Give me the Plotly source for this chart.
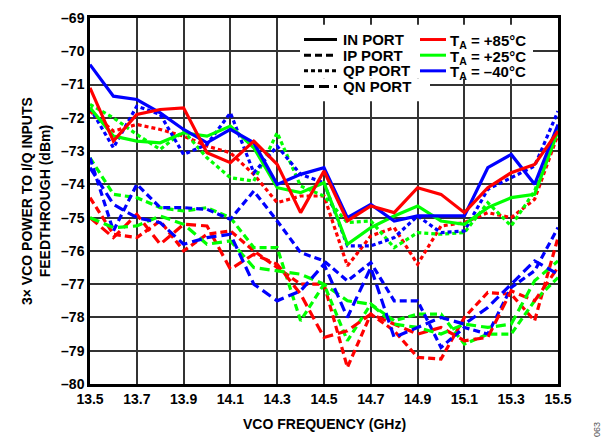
import plotly.graph_objects as go

# VCO frequency sweep (GHz)
freq = [13.5, 13.6, 13.7, 13.8, 13.9, 14.0, 14.1, 14.2, 14.3, 14.4, 14.5,
        14.6, 14.7, 14.8, 14.9, 15.0, 15.1, 15.2, 15.3, 15.4, 15.5]

# IN port (solid)
in_85 = [-71.1, -72.7, -71.9, -71.75, -71.7, -73.05, -73.35, -72.7, -73.4, -74.85, -73.6,
         -75.1, -74.65, -74.85, -74.1, -74.3, -74.85, -74.1, -73.65, -73.4, -72.4]
in_25 = [-71.7, -72.55, -72.7, -72.75, -72.45, -72.55, -72.25, -72.9, -74.1, -74.25, -73.95,
         -75.8, -75.3, -74.95, -74.65, -75.1, -75.2, -74.7, -74.4, -74.3, -72.4]
in_m40 = [-70.4, -71.35, -71.45, -71.85, -72.35, -72.75, -72.35, -72.75, -74.0, -73.7, -73.5,
          -75.0, -74.6, -75.1, -74.95, -74.95, -74.95, -73.5, -73.1, -74.0, -72.2]

# QP port (dotted)
qp_85 = [-71.8, -72.4, -72.2, -72.35, -72.55, -72.85, -73.05, -73.7, -74.55, -74.35, -74.35,
         -76.45, -75.55, -75.3, -76.4, -75.25, -75.15, -74.85, -75.0, -74.45, -72.5]
qp_25 = [-71.6, -72.0, -72.5, -72.95, -72.4, -73.2, -73.8, -73.9, -72.45, -74.05, -74.35,
         -75.15, -75.1, -75.9, -75.45, -75.5, -75.45, -74.55, -75.25, -74.2, -72.3]
qp_m40 = [-71.7, -72.9, -71.65, -71.9, -73.1, -72.8, -71.85, -73.65, -72.85, -73.7, -73.95,
          -75.85, -75.85, -75.6, -74.95, -75.45, -75.4, -74.15, -73.8, -73.45, -71.8]

# IP port (dashed)
ip_85 = [-74.4, -75.5, -75.6, -75.1, -76.0, -75.5, -75.4, -76.0, -76.5, -77.0, -77.0,
         -79.5, -77.9, -78.4, -79.2, -79.25, -78.0, -77.25, -77.3, -78.1, -75.6]
ip_25 = [-73.2, -74.3, -74.4, -74.7, -74.8, -74.7, -75.0, -75.9, -75.9, -78.1, -77.0,
         -78.7, -77.6, -78.1, -77.9, -77.9, -78.8, -78.5, -78.5, -77.5, -76.8]
ip_m40 = [-73.2, -75.4, -74.0, -74.7, -74.7, -74.75, -75.05, -74.2, -75.1, -76.05, -76.3,
          -76.9, -76.35, -77.5, -77.5, -78.9, -78.3, -78.5, -77.1, -76.6, -75.3]

# QN port (long dashed)
qn_85 = [-75.0, -75.6, -74.9, -75.8, -75.2, -75.25, -76.55, -76.1, -76.4, -77.3, -78.6,
         -78.4, -77.9, -78.2, -78.5, -78.3, -78.7, -78.6, -77.2, -77.5, -76.5]
qn_25 = [-75.0, -75.3, -75.25, -74.95, -75.2, -75.8, -75.7, -76.5, -76.6, -76.7, -77.0,
         -77.5, -77.6, -78.2, -78.3, -78.5, -78.2, -78.3, -78.2, -76.9, -76.3]
qn_m40 = [-73.5, -74.6, -75.0, -75.15, -75.8, -75.6, -75.5, -77.0, -77.5, -77.2, -76.4,
          -78.0, -76.5, -78.6, -78.3, -78.0, -78.2, -77.7, -77.0, -76.3, -76.7]

x_ticks = [13.5, 13.7, 13.9, 14.1, 14.3, 14.5, 14.7, 14.9, 15.1, 15.3, 15.5]
y_ticks = list(range(-80, -68))

RED, GREEN, BLUE = "#ff0000", "#00ff00", "#0000ff"
styles = {"IN": "solid", "IP": "7px,4px", "QP": "4px,3px", "QN": "10px,5px"}

series = [
    ("IP", ip_85, RED), ("IP", ip_25, GREEN), ("IP", ip_m40, BLUE),
    ("QN", qn_85, RED), ("QN", qn_25, GREEN), ("QN", qn_m40, BLUE),
    ("QP", qp_85, RED), ("QP", qp_25, GREEN), ("QP", qp_m40, BLUE),
    ("IN", in_25, GREEN), ("IN", in_m40, BLUE), ("IN", in_85, RED),
]

fig = go.Figure()
for port, vals, col in series:
    fig.add_trace(go.Scatter(x=freq, y=vals, mode="lines",
                             line=dict(color=col, width=3.2, dash=styles[port]),
                             showlegend=False, hoverinfo="skip"))

FONT = "Arial, Liberation Sans, sans-serif"
L, R, T, B = 90, 558, 10, 384


def px(xp):
    return (xp - L) / (R - L)


def py(yp):
    return (B - yp) / (B - T)


shapes = [
    dict(type="rect", xref="paper", yref="paper", x0=px(300), x1=px(533), y0=py(72), y1=py(17),
         fillcolor="white", line_width=0, layer="above"),
    dict(type="rect", xref="paper", yref="paper", x0=px(300), x1=px(430), y0=py(95), y1=py(72),
         fillcolor="white", line_width=0, layer="above"),
]
annotations = []

# legend: ports
port_rows = [("IN PORT", "solid", 32), ("IP PORT", "7px,4px", 48),
             ("QP PORT", "4px,3px", 64), ("QN PORT", "10px,5px", 80)]
for label, dash, yy in port_rows:
    shapes.append(dict(type="line", xref="paper", yref="paper", x0=px(304), x1=px(337),
                       y0=py(yy), y1=py(yy), line=dict(color="black", width=3, dash=dash),
                       layer="above"))
    annotations.append(dict(text=label, xref="paper", yref="paper", x=px(341), y=py(yy),
                            xanchor="left", yanchor="middle", showarrow=False,
                            font=dict(family=FONT, size=15, color="black", weight="bold")))

# legend: temperatures
temp_rows = [("T<sub>A</sub> = +85°C", RED, 32), ("T<sub>A</sub> = +25°C", GREEN, 48),
             ("T<sub>A</sub> = –40°C", BLUE, 64)]
for label, col, yy in temp_rows:
    shapes.append(dict(type="line", xref="paper", yref="paper", x0=px(420), x1=px(446),
                       y0=py(yy), y1=py(yy), line=dict(color=col, width=3), layer="above"))
    annotations.append(dict(text=label, xref="paper", yref="paper", x=px(448), y=py(yy + 2),
                            xanchor="left", yanchor="middle", showarrow=False,
                            font=dict(family=FONT, size=15, color="black", weight="bold")))

annotations += [
    dict(text="VCO FREQUENCY (GHz)", xref="paper", yref="paper", x=0.5, y=0,
         yanchor="top", yshift=-30, showarrow=False,
         font=dict(family=FONT, size=14, color="black", weight="bold")),
    dict(text="3× VCO POWER TO I/Q INPUTS<br>FEEDTHROUGH (dBm)", xref="paper", yref="paper",
         x=0, y=0.5, xanchor="center", yanchor="middle", xshift=-54, textangle=-90,
         showarrow=False, font=dict(family=FONT, size=14, color="black", weight="bold")),
    dict(text="063", xref="paper", yref="paper", x=1, y=0, xanchor="center", yanchor="middle",
         xshift=39, yshift=-46, textangle=-90, showarrow=False,
         font=dict(family=FONT, size=9, color="#555555")),
]

fig.update_layout(
    width=605, height=438,
    margin=dict(l=L, r=605 - R, t=T, b=438 - B),
    paper_bgcolor="white", plot_bgcolor="white",
    shapes=shapes, annotations=annotations,
    xaxis=dict(range=[13.5, 15.5], tickvals=x_ticks, ticktext=[f"{v:.1f}" for v in x_ticks],
               showgrid=True, gridcolor="#333333", gridwidth=1.5,
               showline=True, linecolor="black", linewidth=2.5, mirror=True,
               ticks="", zeroline=False,
               tickfont=dict(family=FONT, size=14, color="black", weight="bold")),
    yaxis=dict(range=[-80, -69], tickvals=y_ticks, ticktext=[f"–{abs(v)}" for v in y_ticks],
               showgrid=True, gridcolor="#333333", gridwidth=1.5,
               showline=True, linecolor="black", linewidth=2.5, mirror=True,
               ticks="", zeroline=False,
               tickfont=dict(family=FONT, size=14, color="black", weight="bold")),
)

# drop the default page margin so the figure sits at the window's top-left corner
fig.write_html("out.html", config={"displayModeBar": False},
               post_script="document.body.style.margin='0';")
